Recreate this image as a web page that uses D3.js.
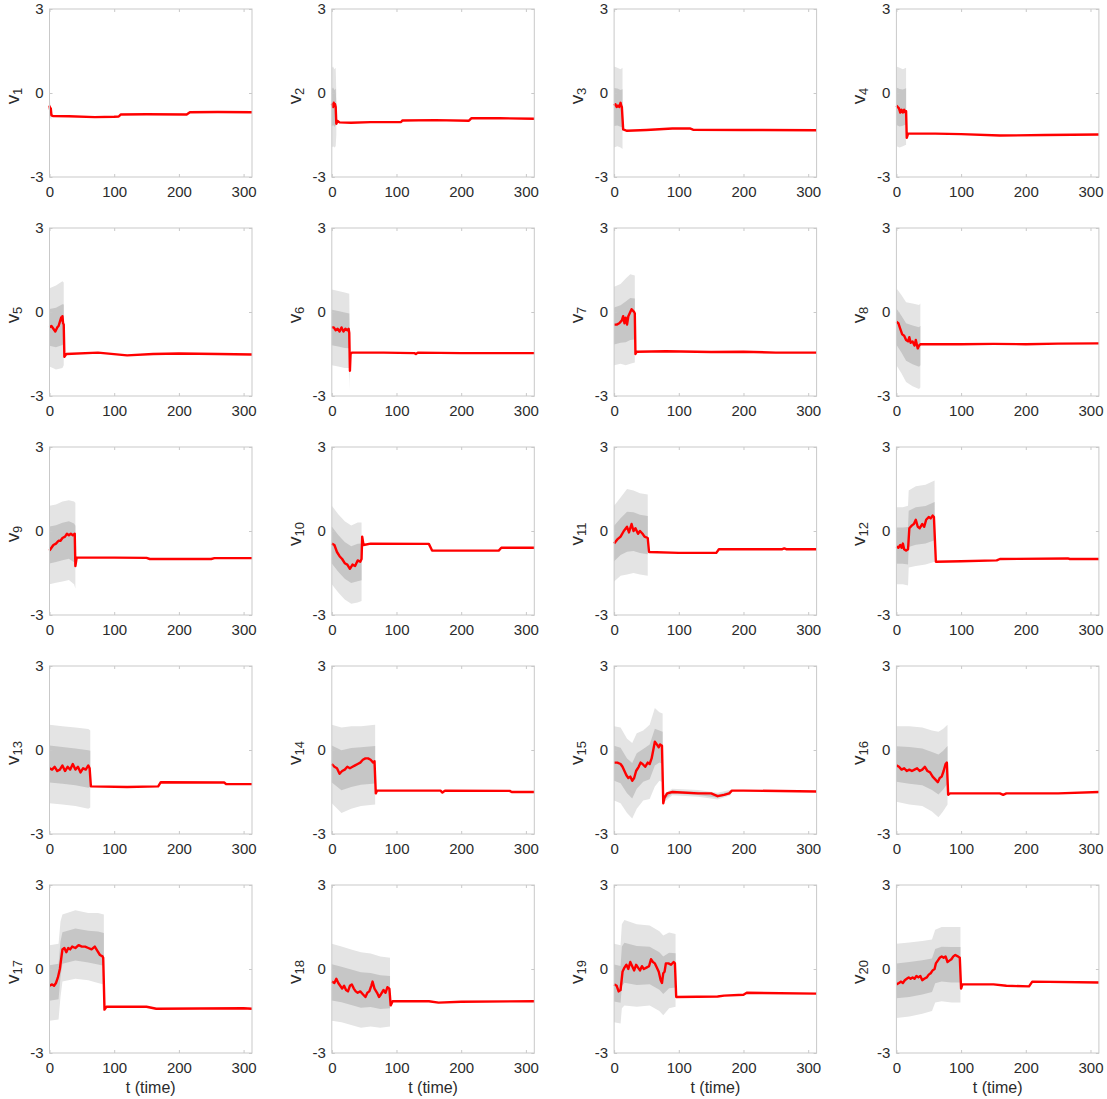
<!DOCTYPE html>
<html>
<head>
<meta charset="utf-8">
<script src="https://cdn.jsdelivr.net/npm/d3@7"></script>
<style>
  html, body { margin: 0; padding: 0; background: #fff; }
  svg { display: block; }
  text { font-family: "Liberation Sans", Arial, Helvetica, sans-serif; }
</style>
</head>
<body>
<script>
// ---------- data ----------
const xTicks = [0, 100, 200, 300];
const yTicks = [-3, 0, 3];
const xLabel = "t (time)";
const names = ["1","2","3","4","5","6","7","8","9","10","11","12","13","14","15","16","17","18","19","20"];

// mean trajectories: [t, value]
const v1 = [[0,-0.45],[1,-0.6],[2,-0.55],[3,-0.8],[5,-0.82],[30,-0.83],[70,-0.86],[100,-0.85],[107,-0.84],[110,-0.77],[150,-0.76],[212,-0.77],[217,-0.69],[260,-0.68],[313,-0.69]];
const v2 = [[0,-0.45],[1,-0.4],[2,-0.5],[3,-0.35],[4,-0.45],[5,-0.4],[6,-0.5],[7,-1.1],[9,-1.0],[12,-1.05],[30,-1.06],[60,-1.04],[107,-1.04],[109,-0.98],[160,-0.97],[212,-0.99],[216,-0.9],[260,-0.9],[313,-0.92]];
const v3 = [[0,-0.45],[2,-0.4],[4,-0.5],[6,-0.45],[8,-0.5],[10,-0.35],[11,-0.45],[12,-0.5],[14,-1.3],[20,-1.35],[50,-1.32],[90,-1.27],[118,-1.27],[122,-1.31],[200,-1.32],[313,-1.33]];
const v4 = [[0,-0.45],[2,-0.5],[4,-0.55],[6,-0.7],[8,-0.6],[10,-0.7],[12,-0.6],[14,-0.7],[15,-0.65],[16,-1.6],[18,-1.45],[60,-1.45],[100,-1.47],[160,-1.52],[230,-1.5],[313,-1.48]];
const v5 = [[0,-0.55],[3,-0.5],[6,-0.6],[9,-0.7],[12,-0.55],[14,-0.5],[16,-0.35],[18,-0.2],[19,-0.3],[20,-0.15],[21,-0.4],[22,-0.45],[23,-1.6],[26,-1.5],[75,-1.45],[120,-1.55],[160,-1.5],[200,-1.48],[260,-1.5],[313,-1.52]];
const v6 = [[0,-0.55],[3,-0.55],[6,-0.65],[9,-0.6],[12,-0.7],[15,-0.55],[18,-0.7],[21,-0.6],[24,-0.65],[26,-0.6],[27,-0.75],[28,-2.1],[29,-1.5],[31,-1.45],[80,-1.45],[128,-1.47],[130,-1.5],[133,-1.45],[200,-1.47],[313,-1.47]];
const v7 = [[0,-0.45],[4,-0.45],[8,-0.4],[12,-0.3],[14,-0.15],[16,-0.4],[18,-0.2],[20,-0.45],[22,-0.15],[25,0.0],[27,0.1],[29,0.05],[31,0.0],[32,-0.05],[33,-1.5],[35,-1.42],[80,-1.4],[150,-1.43],[200,-1.42],[250,-1.45],[313,-1.45]];
const v8 = [[0,-0.35],[3,-0.4],[6,-0.6],[9,-0.8],[12,-0.85],[15,-1.0],[18,-1.05],[20,-0.9],[22,-1.1],[25,-1.05],[28,-1.2],[30,-1.0],[33,-1.3],[35,-1.2],[37,-1.15],[40,-1.15],[100,-1.15],[150,-1.14],[200,-1.15],[250,-1.13],[313,-1.12]];
const v9 = [[0,-0.7],[3,-0.6],[6,-0.5],[10,-0.45],[14,-0.35],[17,-0.35],[20,-0.25],[24,-0.2],[27,-0.1],[30,-0.15],[33,-0.1],[36,-0.15],[39,-0.1],[40,-1.25],[42,-0.95],[100,-0.95],[150,-0.96],[155,-1.0],[250,-1.0],[255,-0.97],[313,-0.97]];
const v10 = [[0,-0.45],[4,-0.5],[8,-0.75],[12,-0.9],[16,-1.0],[20,-1.15],[24,-1.2],[28,-1.35],[32,-1.2],[36,-1.25],[40,-1.05],[44,-1.1],[46,-1.0],[47,-0.2],[49,-0.5],[60,-0.45],[150,-0.46],[155,-0.7],[258,-0.7],[262,-0.6],[313,-0.6]];
const v11 = [[0,-0.45],[5,-0.3],[10,-0.2],[15,0.0],[20,0.15],[23,-0.05],[27,0.25],[30,0.0],[33,0.1],[37,-0.1],[40,0.0],[44,-0.1],[47,-0.2],[52,-0.25],[54,-0.75],[100,-0.78],[158,-0.78],[162,-0.65],[260,-0.65],[263,-0.62],[266,-0.65],[313,-0.65]];
const v12 = [[0,-0.55],[3,-0.6],[6,-0.5],[8,-0.6],[10,-0.45],[12,-0.65],[15,-0.7],[18,-0.65],[20,0.1],[24,0.2],[27,0.25],[30,0.4],[33,0.15],[36,0.1],[40,0.25],[43,0.15],[46,0.4],[50,0.5],[53,0.45],[56,0.55],[58,0.5],[61,-1.1],[100,-1.08],[155,-1.05],[160,-1.0],[265,-0.98],[268,-1.0],[313,-1.0]];
const v13 = [[0,-0.65],[4,-0.7],[8,-0.6],[12,-0.75],[16,-0.7],[20,-0.55],[24,-0.75],[28,-0.6],[32,-0.7],[36,-0.5],[40,-0.7],[44,-0.6],[48,-0.8],[52,-0.65],[56,-0.7],[60,-0.55],[62,-0.65],[64,-1.3],[120,-1.32],[168,-1.3],[172,-1.15],[270,-1.16],[273,-1.22],[313,-1.22]];
const v14 = [[0,-0.5],[4,-0.6],[8,-0.65],[12,-0.85],[16,-0.75],[20,-0.7],[24,-0.6],[28,-0.65],[32,-0.6],[36,-0.55],[40,-0.5],[44,-0.45],[48,-0.35],[52,-0.3],[56,-0.3],[60,-0.35],[64,-0.45],[66,-0.4],[68,-1.55],[70,-1.45],[168,-1.45],[171,-1.52],[175,-1.45],[275,-1.46],[278,-1.5],[313,-1.5]];
const v15 = [[0,-0.45],[5,-0.45],[10,-0.5],[13,-0.6],[16,-0.75],[19,-0.9],[22,-1.0],[25,-0.95],[28,-1.1],[31,-1.0],[34,-0.75],[38,-0.6],[41,-0.45],[44,-0.5],[48,-0.6],[52,-0.45],[55,-0.5],[58,-0.3],[61,0.05],[63,0.3],[66,0.2],[69,0.1],[71,0.2],[74,0.15],[76,-1.9],[78,-1.7],[82,-1.55],[90,-1.5],[130,-1.55],[150,-1.55],[160,-1.65],[170,-1.6],[178,-1.55],[182,-1.45],[200,-1.45],[313,-1.48]];
const v16 = [[0,-0.55],[4,-0.6],[8,-0.7],[12,-0.65],[16,-0.75],[20,-0.7],[24,-0.75],[28,-0.7],[32,-0.65],[36,-0.75],[40,-0.7],[44,-0.6],[48,-0.75],[52,-0.8],[56,-0.95],[60,-1.05],[64,-1.15],[67,-1.0],[70,-0.95],[73,-0.75],[76,-0.5],[78,-0.45],[80,-1.6],[83,-1.55],[160,-1.55],[165,-1.6],[170,-1.55],[250,-1.55],[313,-1.5]];
const v17 = [[0,-0.6],[4,-0.55],[7,-0.6],[10,-0.5],[13,-0.3],[16,0.0],[18,0.35],[20,0.7],[23,0.75],[26,0.6],[29,0.75],[32,0.7],[35,0.8],[40,0.75],[45,0.85],[50,0.8],[55,0.8],[60,0.75],[65,0.7],[70,0.8],[74,0.65],[78,0.5],[82,0.45],[83,0.4],[85,-1.45],[88,-1.35],[150,-1.35],[165,-1.42],[300,-1.4],[313,-1.42]];
const v18 = [[0,-0.45],[4,-0.5],[7,-0.35],[10,-0.5],[13,-0.6],[16,-0.7],[19,-0.6],[22,-0.75],[25,-0.8],[28,-0.6],[31,-0.55],[34,-0.7],[37,-0.8],[40,-0.85],[44,-0.8],[48,-0.9],[52,-1.0],[55,-0.85],[58,-0.8],[61,-0.6],[63,-0.45],[66,-0.7],[70,-0.85],[73,-1.0],[76,-0.9],[80,-0.75],[83,-0.85],[86,-0.65],[89,-0.7],[91,-1.3],[94,-1.15],[150,-1.15],[165,-1.2],[200,-1.17],[313,-1.15]];
const v19 = [[0,-0.55],[4,-0.6],[7,-0.8],[10,-0.75],[13,-0.1],[16,0.05],[19,0.15],[22,0.0],[25,0.25],[28,0.1],[31,-0.05],[34,0.15],[37,0.05],[40,-0.05],[43,0.1],[46,0.0],[50,0.05],[54,0.1],[57,0.35],[60,0.25],[63,0.2],[66,0.05],[69,-0.1],[72,-0.4],[74,-0.5],[76,-0.15],[78,-0.1],[80,0.2],[84,0.2],[88,0.15],[92,0.25],[94,0.2],[96,-1.0],[160,-0.98],[170,-0.95],[200,-0.92],[205,-0.85],[313,-0.88]];
const v20 = [[0,-0.55],[4,-0.5],[7,-0.45],[10,-0.5],[13,-0.4],[16,-0.35],[19,-0.3],[22,-0.35],[25,-0.3],[28,-0.35],[31,-0.25],[34,-0.3],[37,-0.25],[40,-0.4],[43,-0.35],[47,-0.3],[50,-0.2],[53,-0.15],[56,-0.05],[59,0.0],[61,0.2],[64,0.3],[67,0.4],[70,0.45],[73,0.4],[76,0.45],[79,0.25],[82,0.3],[85,0.35],[88,0.45],[91,0.5],[95,0.45],[98,0.4],[100,-0.7],[102,-0.55],[150,-0.55],[170,-0.6],[205,-0.62],[210,-0.45],[313,-0.48]];

// outer (light) uncertainty band: [t, lower, upper]; null breaks the band
const v1Band = [[0,-0.85,-0.2],[3,-0.95,-0.65]];
const v2Band = [[0,-1.95,0.9],[2,-1.9,0.95],[4,-1.95,0.85],[6,-1.9,0.9],[7,-1.5,0.0]];
const v3Band = [[0,-1.95,0.95],[5,-1.9,0.9],[10,-1.95,0.85],[13,-2.0,0.9]];
const v4Band = [[0,-1.9,0.95],[5,-1.95,0.9],[10,-1.9,0.85],[15,-1.85,0.9]];
const v5Band = [[0,-1.95,0.85],[10,-2.05,0.95],[20,-2.0,1.1],[22,-1.9,1.05]];
const v6Band = [[0,-1.9,0.8],[10,-1.95,0.75],[20,-2.0,0.7],[27,-2.0,0.65],[28,-2.8,-1.4]];
const v7Band = [[0,-1.9,0.9],[10,-1.85,1.0],[18,-1.9,1.2],[25,-1.85,1.35],[32,-1.8,1.3]];
const v8Band = [[0,-1.9,0.85],[8,-2.2,0.6],[15,-2.5,0.35],[25,-2.65,0.3],[35,-2.75,0.25],[37,-2.7,0.3]];
const v9Band = [[0,-1.9,0.9],[10,-1.85,0.95],[20,-1.8,1.05],[30,-1.75,1.1],[38,-1.9,1.05],[40,-2.05,1.0]];
const v10Band = [[0,-1.9,0.9],[10,-2.2,0.6],[20,-2.45,0.35],[30,-2.6,0.2],[40,-2.55,0.3],[46,-2.5,0.3]];
const v11Band = [[0,-1.8,0.9],[10,-1.6,1.2],[20,-1.55,1.5],[30,-1.5,1.45],[40,-1.55,1.35],[52,-1.6,1.3]];
const v12Band = [[0,-1.9,0.85],[10,-1.9,0.85],[18,-1.95,0.9],[19,-1.3,1.45],[30,-1.25,1.6],[45,-1.2,1.65],[59,-1.1,1.8]];
const v13Band = [[0,-1.9,0.9],[20,-1.95,0.85],[40,-2.0,0.8],[60,-2.1,0.75],[63,-2.05,0.7]];
const v14Band = [[0,-1.9,0.9],[15,-2.25,0.8],[30,-2.1,0.85],[45,-2.0,0.85],[67,-1.95,0.9]];
const v15Band = [[0,-1.8,0.85],[10,-1.9,0.8],[20,-2.25,0.4],[28,-2.45,0.25],[35,-2.1,0.6],[45,-1.8,0.7],[55,-1.75,0.9],[63,-1.3,1.5],[70,-1.1,1.35],[75,-1.15,1.3],[75.5,null,null],[78,-1.85,-1.55],[90,-1.62,-1.38],[130,-1.67,-1.43],[160,-1.77,-1.53],[180,-1.62,-1.42]];
const v16Band = [[0,-1.85,0.85],[20,-1.95,0.85],[40,-2.0,0.8],[55,-2.2,0.7],[65,-2.4,0.65],[72,-2.2,0.75],[79,-1.95,0.9]];
const v17Band = [[0,-1.85,0.85],[14,-1.8,0.9],[17,-1.0,1.7],[20,-0.45,1.95],[40,-0.35,2.1],[60,-0.4,2.0],[75,-0.5,2.0],[84,-0.55,1.95]];
const v18Band = [[0,-1.85,0.9],[15,-1.9,0.8],[30,-2.0,0.7],[45,-2.1,0.6],[60,-2.05,0.55],[75,-2.1,0.45],[90,-2.05,0.4]];
const v19Band = [[0,-1.9,0.9],[10,-1.95,0.85],[12,-1.4,1.6],[16,-1.3,1.75],[35,-1.35,1.6],[55,-1.3,1.55],[70,-1.5,1.35],[76,-1.65,1.2],[85,-1.4,1.3],[95,-1.35,1.25]];
const v20Band = [[0,-1.75,0.9],[20,-1.7,0.95],[40,-1.6,1.0],[55,-1.5,1.05],[60,-1.2,1.4],[70,-1.15,1.5],[85,-1.2,1.5],[99,-1.2,1.5]];

const means = [v1,v2,v3,v4,v5,v6,v7,v8,v9,v10,v11,v12,v13,v14,v15,v16,v17,v18,v19,v20];
const bands = [v1Band,v2Band,v3Band,v4Band,v5Band,v6Band,v7Band,v8Band,v9Band,v10Band,v11Band,v12Band,v13Band,v14Band,v15Band,v16Band,v17Band,v18Band,v19Band,v20Band];

// ---------- layout ----------
const W = 1107, H = 1099;
const left0 = 49.5, colStep = 282.3, top0 = 9, rowStep = 219;
const pw = 202.5, ph = 168;
const innerFrac = 0.47;   // dark band half-width relative to light band

const svg = d3.select("body").append("svg").attr("width", W).attr("height", H);

const x = d3.scaleLinear().domain([0, 313]).range([0, pw]);
const y = d3.scaleLinear().domain([-3, 3]).range([ph, 0]);

const boxColor = "#c9c9c9";
const textColor = "#2b2b2b";
const fmt = d => String(d);   // plain hyphen-minus, no decimals

means.forEach((series, i) => {
  const col = i % 4, row = Math.floor(i / 4);
  const g = svg.append("g").attr("transform", `translate(${left0 + col * colStep},${top0 + row * rowStep})`);

  const band = bands[i];
  const defined = d => d[1] !== null && d[2] !== null;
  const outer = d3.area().defined(defined).x(d => x(d[0])).y0(d => y(d[1])).y1(d => y(d[2]));
  const inner = d3.area().defined(defined)
    .x(d => x(d[0]))
    .y0(d => y((d[1] + d[2]) / 2 - (d[2] - d[1]) / 2 * innerFrac))
    .y1(d => y((d[1] + d[2]) / 2 + (d[2] - d[1]) / 2 * innerFrac));

  g.append("path").datum(band).attr("d", outer).attr("fill", "#e4e4e4");
  g.append("path").datum(band).attr("d", inner).attr("fill", "#c6c6c6");

  const line = d3.line().x(d => x(d[0])).y(d => y(d[1]));
  g.append("path").datum(series).attr("d", line)
    .attr("fill", "none").attr("stroke", "#ff0000").attr("stroke-width", 2.4)
    .attr("stroke-linejoin", "round");

  // axes (ticks pointing inward, MATLAB style)
  const ax = g.append("g").attr("transform", `translate(0,${ph})`)
    .call(d3.axisBottom(x).tickValues(xTicks).tickFormat(fmt).tickSizeInner(-3).tickSizeOuter(0).tickPadding(9));
  const ay = g.append("g")
    .call(d3.axisLeft(y).tickValues(yTicks).tickFormat(fmt).tickSizeInner(-3).tickSizeOuter(0).tickPadding(6));
  const axT = g.append("g")
    .call(d3.axisTop(x).tickValues(xTicks).tickSizeInner(-3).tickSizeOuter(0).tickFormat(""));
  const ayR = g.append("g").attr("transform", `translate(${pw},0)`)
    .call(d3.axisRight(y).tickValues(yTicks).tickSizeInner(-3).tickSizeOuter(0).tickFormat(""));
  [ax, ay, axT, ayR].forEach(a => {
    a.select(".domain").remove();
    a.selectAll(".tick line").attr("stroke", boxColor);
    a.selectAll(".tick text").attr("fill", textColor).style("font-size", "15px")
      .style("font-family", '"Liberation Sans", Arial, sans-serif');
  });

  g.append("rect").attr("x", 0).attr("y", 0).attr("width", pw).attr("height", ph)
    .attr("fill", "none").attr("stroke", boxColor).attr("stroke-width", 1);

  // y label v_i (rotated, subscript index)
  const lab = g.append("text")
    .attr("transform", `translate(${-31},${ph / 2 + 3}) rotate(-90)`)
    .attr("text-anchor", "middle")
    .attr("fill", textColor)
    .style("font-size", "19px");
  lab.append("tspan").text("v");
  lab.append("tspan").attr("dy", 3).style("font-size", "13px").text(names[i]);

  if (row === 4) {
    g.append("text")
      .attr("x", pw / 2).attr("y", ph + 40)
      .attr("text-anchor", "middle")
      .attr("fill", textColor)
      .style("font-size", "16px")
      .text(xLabel);
  }
});
</script>
</body>
</html>
